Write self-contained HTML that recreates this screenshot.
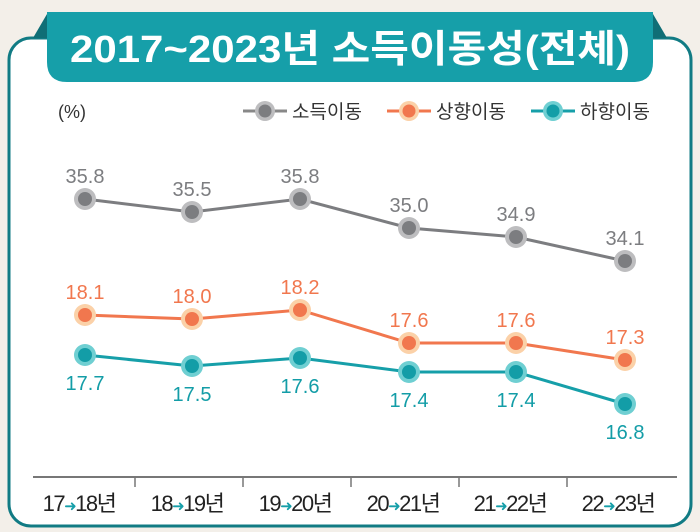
<!DOCTYPE html>
<html><head><meta charset="utf-8"><style>
html,body{margin:0;padding:0;background:#f3efe9;}
svg{display:block;font-family:"Liberation Sans","Noto Sans CJK KR",sans-serif;}
</style></head><body>
<svg width="700" height="532" viewBox="0 0 700 532">
<rect x="0" y="0" width="700" height="532" fill="#f3efe9"/>
<rect x="9" y="38" width="682" height="488" rx="22" fill="#fff" stroke="#117b84" stroke-width="3"/>
<polygon points="33,38 47,14 47,38" fill="#0f6e76"/>
<polygon points="667,38 653,14 653,38" fill="#0f6e76"/>
<path d="M47,12 H653 V62 Q653,82 633,82 H67 Q47,82 47,62 Z" fill="#169fa9"/>
<text x="350" y="62" text-anchor="middle" font-size="38" font-weight="bold" fill="#fff" textLength="560" lengthAdjust="spacingAndGlyphs">2017~2023년 소득이동성(전체)</text>
<text x="58" y="118" font-size="18" fill="#333">(%)</text>
<g font-size="19" fill="#333">
<line x1="243" y1="111" x2="287" y2="111" stroke="#888" stroke-width="3"/>
<circle cx="265" cy="111" r="10" fill="#bdbdbf"/><circle cx="265" cy="111" r="6.5" fill="#7c7d80"/>
<text x="292" y="118">소득이동</text>
<line x1="387" y1="111" x2="431" y2="111" stroke="#f1774e" stroke-width="3"/>
<circle cx="409" cy="111" r="10" fill="#fbd1a8"/><circle cx="409" cy="111" r="6.5" fill="#f1774e"/>
<text x="436" y="118">상향이동</text>
<line x1="531" y1="111" x2="575" y2="111" stroke="#169fa9" stroke-width="3"/>
<circle cx="553" cy="111" r="10" fill="#6fcfd2"/><circle cx="553" cy="111" r="6.5" fill="#139da7"/>
<text x="580" y="118">하향이동</text>
</g>
<line x1="33" y1="477" x2="677" y2="477" stroke="#777" stroke-width="2"/>
<g stroke="#777" stroke-width="1.5">
<line x1="135" y1="477" x2="135" y2="487"/><line x1="243" y1="477" x2="243" y2="487"/>
<line x1="351" y1="477" x2="351" y2="487"/><line x1="459" y1="477" x2="459" y2="487"/>
<line x1="567" y1="477" x2="567" y2="487"/>
</g>
<g font-size="22" fill="#222" text-anchor="middle" letter-spacing="-1.5">
<text x="79" y="511">17<tspan fill="#169fa9" font-size="15">➜</tspan>18년</text>
<text x="187" y="511">18<tspan fill="#169fa9" font-size="15">➜</tspan>19년</text>
<text x="295" y="511">19<tspan fill="#169fa9" font-size="15">➜</tspan>20년</text>
<text x="403" y="511">20<tspan fill="#169fa9" font-size="15">➜</tspan>21년</text>
<text x="510" y="511">21<tspan fill="#169fa9" font-size="15">➜</tspan>22년</text>
<text x="618" y="511">22<tspan fill="#169fa9" font-size="15">➜</tspan>23년</text>
</g>
<polyline points="85,199 192,212 300,199 409,228 516,237 625,261" fill="none" stroke="#7c7d80" stroke-width="3"/>
<polyline points="85,315 192,319 300,310 409,343 516,343 625,360" fill="none" stroke="#f1774e" stroke-width="3"/>
<polyline points="85,355 192,366 300,358 409,372 516,372 625,404" fill="none" stroke="#169fa9" stroke-width="3"/>
<g fill="#bdbdbf">
<circle cx="85" cy="199" r="11"/><circle cx="192" cy="212" r="11"/><circle cx="300" cy="199" r="11"/><circle cx="409" cy="228" r="11"/><circle cx="516" cy="237" r="11"/><circle cx="625" cy="261" r="11"/></g>
<g fill="#7c7d80">
<circle cx="85" cy="199" r="7"/><circle cx="192" cy="212" r="7"/><circle cx="300" cy="199" r="7"/><circle cx="409" cy="228" r="7"/><circle cx="516" cy="237" r="7"/><circle cx="625" cy="261" r="7"/></g>
<g fill="#fbd1a8">
<circle cx="85" cy="315" r="11"/><circle cx="192" cy="319" r="11"/><circle cx="300" cy="310" r="11"/><circle cx="409" cy="343" r="11"/><circle cx="516" cy="343" r="11"/><circle cx="625" cy="360" r="11"/></g>
<g fill="#f1774e">
<circle cx="85" cy="315" r="7"/><circle cx="192" cy="319" r="7"/><circle cx="300" cy="310" r="7"/><circle cx="409" cy="343" r="7"/><circle cx="516" cy="343" r="7"/><circle cx="625" cy="360" r="7"/></g>
<g fill="#6fcfd2">
<circle cx="85" cy="355" r="11"/><circle cx="192" cy="366" r="11"/><circle cx="300" cy="358" r="11"/><circle cx="409" cy="372" r="11"/><circle cx="516" cy="372" r="11"/><circle cx="625" cy="404" r="11"/></g>
<g fill="#139da7">
<circle cx="85" cy="355" r="7"/><circle cx="192" cy="366" r="7"/><circle cx="300" cy="358" r="7"/><circle cx="409" cy="372" r="7"/><circle cx="516" cy="372" r="7"/><circle cx="625" cy="404" r="7"/></g>
<g font-size="20" text-anchor="middle">
<g fill="#7c7d80">
<text x="85" y="183">35.8</text><text x="192" y="196">35.5</text><text x="300" y="183">35.8</text><text x="409" y="212">35.0</text><text x="516" y="221">34.9</text><text x="625" y="245">34.1</text></g>
<g fill="#f1774e">
<text x="85" y="299">18.1</text><text x="192" y="303">18.0</text><text x="300" y="294">18.2</text><text x="409" y="327">17.6</text><text x="516" y="327">17.6</text><text x="625" y="344">17.3</text></g>
<g fill="#139da7">
<text x="85" y="390">17.7</text><text x="192" y="401">17.5</text><text x="300" y="393">17.6</text><text x="409" y="407">17.4</text><text x="516" y="407">17.4</text><text x="625" y="439">16.8</text></g>
</g>
</svg>
</body></html>
